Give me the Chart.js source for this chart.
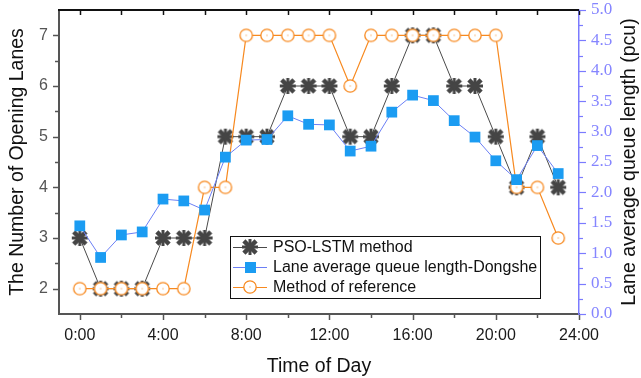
<!DOCTYPE html>
<html>
<head>
<meta charset="utf-8">
<script src="https://cdn.jsdelivr.net/npm/chart.js@4.4.0/dist/chart.umd.min.js"></script>
<style>
  body { margin: 0; background: #fff; }
  #wrap { width: 641px; height: 378px; }
</style>
</head>
<body>
<div id="wrap"><canvas id="chart" width="641" height="378"></canvas></div>
<script>
// hour of day for every point
var hours = [0, 1, 2, 3, 4, 5, 6, 7, 8, 9, 10, 11, 12, 13, 14, 15, 16, 17, 18, 19, 20, 21, 22, 23];
// number of opening lanes (left axis)
var psoLstmLanes = [3, 2, 2, 2, 3, 3, 3, 5, 5, 5, 6, 6, 6, 5, 5, 6, 7, 7, 6, 6, 5, 4, 5, 4];
var referenceLanes = [2, 2, 2, 2, 2, 2, 4, 4, 7, 7, 7, 7, 7, 6, 7, 7, 7, 7, 7, 7, 7, 4, 4, 3];
// lane average queue length, pcu (right axis)
var queueLength = [1.45, 0.93, 1.30, 1.35, 1.89, 1.86, 1.71, 2.58, 2.86, 2.87, 3.26, 3.12, 3.11, 2.68, 2.76, 3.32, 3.60, 3.51, 3.18, 2.91, 2.52, 2.21, 2.77, 2.31];

var xTicks = [0, 4, 8, 12, 16, 20, 24];
var xTickLabels = ["0:00", "4:00", "8:00", "12:00", "16:00", "20:00", "24:00"];
var laneTicks = [2, 3, 4, 5, 6, 7];
var queueTicks = [0, 0.5, 1, 1.5, 2, 2.5, 3, 3.5, 4, 4.5, 5];

var legendNames = ["PSO-LSTM method", "Lane average queue length-Dongshe", "Method of reference"];
var rightTitle = "Lane average queue length (pcu)";

var sansFont = "Arial, 'Liberation Sans', sans-serif";

function toPoints(arr) {
    return hours.map(function(h, i) { return { x: h, y: arr[i] }; });
}

// dark "X" marker
function makeCrossMarker() {
    var c = document.createElement("canvas");
    c.width = 18; c.height = 18;
    var g = c.getContext("2d");
    g.strokeStyle = "#454545";
    g.lineCap = "square";
    g.lineWidth = 4.5;
    g.beginPath();
    g.moveTo(4.5, 4.5); g.lineTo(13.5, 13.5);
    g.moveTo(13.5, 4.5); g.lineTo(4.5, 13.5);
    g.stroke();
    g.lineWidth = 3;
    g.beginPath();
    g.moveTo(9, 2.5); g.lineTo(9, 15.5);
    g.moveTo(2.5, 9); g.lineTo(15.5, 9);
    g.stroke();
    return c;
}

// hollow orange circle with a small dot
function makeCircleMarker() {
    var c = document.createElement("canvas");
    c.width = 16; c.height = 16;
    var g = c.getContext("2d");
    g.fillStyle = "#fff";
    g.strokeStyle = "#f7891f";
    g.lineWidth = 1.3;
    g.beginPath();
    g.arc(8, 8, 6.2, 0, Math.PI * 2);
    g.fill();
    g.stroke();
    g.fillStyle = "#f7891f";
    g.fillRect(7.5, 7.5, 1, 1);
    return c;
}

var crossMarker = makeCrossMarker();
var circleMarker = makeCircleMarker();

function line(ctx, x1, y1, x2, y2) {
    ctx.beginPath();
    ctx.moveTo(x1, y1);
    ctx.lineTo(x2, y2);
    ctx.stroke();
}

function noPad(scale) {
    scale.paddingTop = 0;
    scale.paddingBottom = 0;
    scale.paddingLeft = 0;
    scale.paddingRight = 0;
}

var axisDecor = {
    id: "axisDecor",
    afterDraw: function(chart) {
        var ctx = chart.ctx;
        var a = chart.chartArea;
        var xs = chart.scales.x, yl = chart.scales.y, yr = chart.scales.y1;
        ctx.save();

        // top frame line
        ctx.strokeStyle = "#111";
        ctx.lineWidth = 2;
        line(ctx, a.left - 1, a.top, a.right, a.top);

        // x ticks
        ctx.lineWidth = 1.5;
        for (var h = 0; h <= 24; h += 2) {
            var px = Math.round(xs.getPixelForValue(h)) + 0.5;
            ctx.strokeStyle = "#111";
            line(ctx, px, a.top, px, a.top + 5);
            ctx.strokeStyle = "#555";
            line(ctx, px, a.bottom, px, a.bottom + (h % 4 === 0 ? 6 : 4));
        }

        // left ticks
        ctx.strokeStyle = "#555";
        for (var v = 2; v <= 7; v += 0.5) {
            var py = Math.round(yl.getPixelForValue(v)) + 0.5;
            line(ctx, a.left - (v % 1 === 0 ? 6 : 4), py, a.left, py);
        }

        // right ticks
        ctx.strokeStyle = "#7b7bff";
        ctx.lineWidth = 1.2;
        for (var r = 0; r <= 5; r += 0.25) {
            var ry = Math.round(yr.getPixelForValue(r)) + 0.5;
            line(ctx, a.right, ry, a.right + (r % 0.5 === 0 ? 7 : 4), ry);
        }

        // right axis title, reading bottom to top
        ctx.save();
        ctx.translate(630, (a.top + a.bottom) / 2);
        ctx.rotate(-Math.PI / 2);
        ctx.font = "19.5px " + sansFont;
        ctx.fillStyle = "#111";
        ctx.textAlign = "center";
        ctx.textBaseline = "middle";
        ctx.fillText(rightTitle, 0, 0);
        ctx.restore();

        // legend box
        ctx.fillStyle = "#fff";
        ctx.strokeStyle = "#111";
        ctx.lineWidth = 1;
        ctx.fillRect(230, 236, 310, 62);
        ctx.strokeRect(230.5, 236.5, 310, 62);

        var rows = [247, 267, 287];
        var colors = ["#4a4a4a", "#6b7ff5", "#f7891f"];
        ctx.font = "16px " + sansFont;
        ctx.textBaseline = "middle";
        ctx.textAlign = "left";
        for (var i = 0; i < rows.length; i++) {
            ctx.strokeStyle = colors[i];
            ctx.lineWidth = 1;
            line(ctx, 233, rows[i] + 0.5, 267, rows[i] + 0.5);
            if (i === 0) {
                ctx.drawImage(crossMarker, 250 - 9, rows[i] - 9);
            } else if (i === 1) {
                ctx.fillStyle = "#1b9cf2";
                ctx.fillRect(245, rows[i] - 5, 11, 11);
            } else {
                ctx.drawImage(circleMarker, 250 - 8, rows[i] - 8);
            }
            ctx.fillStyle = "#111";
            ctx.fillText(legendNames[i], 273, rows[i] + 1);
        }
        ctx.restore();
    }
};

var ctx = document.getElementById("chart").getContext("2d");
var chart = new Chart(ctx, {
    type: "line",
    data: {
        datasets: [{
            label: legendNames[0],
            data: toPoints(psoLstmLanes),
            yAxisID: "y",
            borderColor: "#4a4a4a",
            borderWidth: 1,
            pointStyle: crossMarker,
            pointRadius: 7,
            order: 3
        }, {
            label: legendNames[1],
            data: toPoints(queueLength),
            yAxisID: "y1",
            borderColor: "#6b7ff5",
            borderWidth: 1,
            pointStyle: "rect",
            pointRadius: 7.6,
            pointBackgroundColor: "#1b9cf2",
            pointBorderWidth: 0,
            order: 1
        }, {
            label: legendNames[2],
            data: toPoints(referenceLanes),
            yAxisID: "y",
            borderColor: "#f7891f",
            borderWidth: 1.2,
            pointStyle: circleMarker,
            pointRadius: 7,
            order: 2
        }]
    },
    options: {
        responsive: false,
        animation: false,
        layout: { padding: { top: 10, left: 0, right: 0, bottom: 0 } },
        plugins: {
            legend: { display: false },
            tooltip: { enabled: false }
        },
        scales: {
            x: {
                type: "linear",
                min: -1,
                max: 24,
                afterBuildTicks: function(scale) {
                    scale.ticks = xTicks.map(function(v) { return { value: v }; });
                },
                afterFit: function(scale) { scale.height = 64; noPad(scale); },
                grid: { drawOnChartArea: false, color: "rgba(0,0,0,0)", tickLength: 6 },
                border: { color: "#555", width: 2 },
                ticks: {
                    autoSkip: false,
                    maxRotation: 0,
                    padding: 6,
                    color: "#1a1a1a",
                    font: { family: sansFont, size: 16 },
                    callback: function(value) { return xTickLabels[xTicks.indexOf(value)]; }
                },
                title: {
                    display: true,
                    text: "Time of Day",
                    color: "#111",
                    font: { family: sansFont, size: 19.5 },
                    padding: { top: 5, bottom: 0 }
                }
            },
            y: {
                position: "left",
                min: 1.5,
                max: 7.5,
                afterBuildTicks: function(scale) {
                    scale.ticks = laneTicks.map(function(v) { return { value: v }; });
                },
                afterFit: function(scale) { scale.width = 59; noPad(scale); },
                grid: { drawOnChartArea: false, color: "rgba(0,0,0,0)", tickLength: 6 },
                border: { color: "#555", width: 2 },
                ticks: {
                    padding: 5,
                    color: "#555",
                    font: { family: sansFont, size: 16 }
                },
                title: {
                    display: true,
                    text: "The Number of Opening Lanes",
                    color: "#111",
                    font: { family: sansFont, size: 19.5 },
                    padding: { top: 6, bottom: 0 }
                }
            },
            y1: {
                position: "right",
                min: 0,
                max: 5,
                afterBuildTicks: function(scale) {
                    scale.ticks = queueTicks.map(function(v) { return { value: v }; });
                },
                afterFit: function(scale) { scale.width = 62; noPad(scale); },
                grid: { drawOnChartArea: false, color: "rgba(0,0,0,0)", tickLength: 7 },
                border: { color: "#7b7bff", width: 1.5 },
                ticks: {
                    padding: 5,
                    color: "#8585ff",
                    font: { family: "'Liberation Serif', 'Times New Roman', serif", size: 17 },
                    callback: function(value) { return value.toFixed(1); }
                }
            }
        }
    },
    plugins: [axisDecor]
});
</script>
</body>
</html>
